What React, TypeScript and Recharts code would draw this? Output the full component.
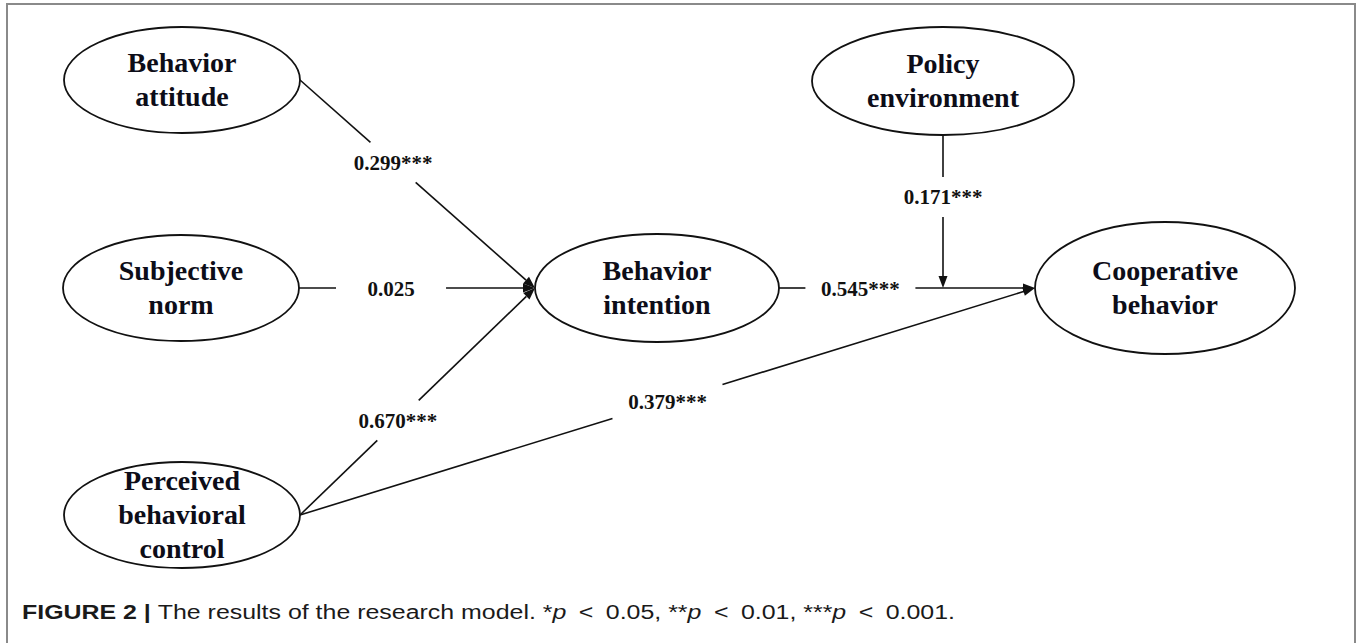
import React from 'react';
import { ScatterChart, Scatter, XAxis, YAxis, ReferenceLine } from 'recharts';

const W = 1357;
const H = 643;

// constructs of the research model
const nodeIds = ['BA', 'SN', 'PBC', 'BI', 'PE', 'CB'];
const nodeText = [
  ['Behavior', 'attitude'],
  ['Subjective', 'norm'],
  ['Perceived', 'behavioral', 'control'],
  ['Behavior', 'intention'],
  ['Policy', 'environment'],
  ['Cooperative', 'behavior'],
];

// structural paths and their coefficients
const pathFrom = ['BA', 'SN', 'PBC', 'BI', 'PBC'];
const pathTo = ['BI', 'BI', 'BI', 'CB', 'CB'];
const pathCoef = ['0.299***', '0.025', '0.670***', '0.545***', '0.379***'];

// moderating effect of policy environment on the BI -> CB path
const modFrom = 'PE';
const modOnPath = 3;
const modCoef = '0.171***';

// diagram layout (centre + radii of each ellipse, in plot units)
const layout: Record<string, { x: number; y: number; rx: number; ry: number }> = {
  BA: { x: 182, y: 80, rx: 118, ry: 53 },
  SN: { x: 181, y: 288, rx: 118, ry: 53 },
  PBC: { x: 182, y: 515, rx: 118, ry: 53 },
  BI: { x: 657, y: 288, rx: 122, ry: 54 },
  PE: { x: 943, y: 81, rx: 131, ry: 54 },
  CB: { x: 1165, y: 288, rx: 130, ry: 66 },
};
const labelAt = [0.396, 0.39, 0.417, 0.318, 0.5];
const modLabelAt = 0.405;
const GAP_W = 55;
const GAP_H = 20;

type Pt = { x: number; y: number };

const split = (p: Pt, q: Pt, t: number) => {
  const dx = q.x - p.x;
  const dy = q.y - p.y;
  const len = Math.hypot(dx, dy);
  const ux = dx / len;
  const uy = dy / len;
  const c = { x: p.x + dx * t, y: p.y + dy * t };
  const s = Math.min(ux ? GAP_W / Math.abs(ux) : Infinity, uy ? GAP_H / Math.abs(uy) : Infinity);
  return {
    c,
    a: [p, { x: c.x - ux * s, y: c.y - uy * s }],
    b: [{ x: c.x + ux * s, y: c.y + uy * s }, q],
  };
};

const pathEnds = pathFrom.map((f, i) => {
  const a = layout[f];
  const b = layout[pathTo[i]];
  return [{ x: a.x + a.rx, y: a.y }, { x: b.x - b.rx, y: b.y }];
});

const segs = pathEnds.map((e, i) => split(e[0], e[1], labelAt[i]));

const modStart = { x: layout[modFrom].x, y: layout[modFrom].y + layout[modFrom].ry };
const host = pathEnds[modOnPath];
const modEnd = {
  x: modStart.x,
  y: host[0].y + ((modStart.x - host[0].x) / (host[1].x - host[0].x)) * (host[1].y - host[0].y),
};
const modSeg = split(modStart, modEnd, modLabelAt);

const nodeData = nodeIds.map((id, i) => ({ x: layout[id].x, y: layout[id].y, id, lines: nodeText[i] }));
const labelData = [
  ...segs.map((s, i) => ({ x: s.c.x, y: s.c.y, text: pathCoef[i] })),
  { x: modSeg.c.x, y: modSeg.c.y, text: modCoef },
];

const serif = "'Liberation Serif', 'Times New Roman', serif";

const EllipseNode = (props: any) => {
  const { cx, cy, payload } = props;
  const l = layout[payload.id];
  const n = payload.lines.length;
  return (
    <g>
      <ellipse cx={cx} cy={cy} rx={l.rx} ry={l.ry} fill="#fff" stroke="#111" strokeWidth={1.8} />
      {payload.lines.map((t: string, i: number) => (
        <text
          key={t}
          x={cx}
          y={cy + 9 + (i - (n - 1) / 2) * 34}
          textAnchor="middle"
          fontFamily={serif}
          fontWeight="bold"
          fontSize={28}
          fill="#0d0d18"
        >
          {t}
        </text>
      ))}
    </g>
  );
};

const CoefLabel = (props: any) => {
  const { cx, cy, payload } = props;
  return (
    <text x={cx} y={cy + 7.5} textAnchor="middle" fontFamily={serif} fontWeight="bold" fontSize={21} fill="#111">
      {payload.text}
    </text>
  );
};

const PlainLine = (props: any) => (
  <line x1={props.x1} y1={props.y1} x2={props.x2} y2={props.y2} stroke="#111" strokeWidth={1.6} />
);

const ArrowLine = (props: any) => {
  const { x1, y1, x2, y2 } = props;
  const len = Math.hypot(x2 - x1, y2 - y1);
  const ux = (x2 - x1) / len;
  const uy = (y2 - y1) / len;
  const hl = 12;
  const hw = 4.5;
  const bx = x2 - ux * hl;
  const by = y2 - uy * hl;
  const pts = `${x2},${y2} ${bx - uy * hw},${by + ux * hw} ${bx + uy * hw},${by - ux * hw}`;
  return (
    <g>
      <line x1={x1} y1={y1} x2={bx} y2={by} stroke="#111" strokeWidth={1.6} />
      <polygon points={pts} fill="#111" />
    </g>
  );
};

export default function App() {
  return (
    <div style={{ position: 'absolute', left: 0, top: 0, width: W, height: H, overflow: 'hidden', background: '#fff' }}>
      <div
        style={{
          position: 'absolute',
          left: 6,
          top: 3,
          width: 1350,
          height: 700,
          border: '2px solid #8a8a8a',
          boxSizing: 'border-box',
        }}
      />
      <div style={{ position: 'absolute', left: 0, top: 0 }}>
        <ScatterChart width={W} height={H} margin={{ top: 0, right: 0, bottom: 0, left: 0 }}>
          <XAxis type="number" dataKey="x" domain={[0, W]} hide />
          <YAxis type="number" dataKey="y" domain={[0, H]} reversed hide />
          {segs.map((s, i) => (
            <ReferenceLine key={`a${i}`} segment={s.a} shape={PlainLine} ifOverflow="visible" />
          ))}
          {segs.map((s, i) => (
            <ReferenceLine key={`b${i}`} segment={s.b} shape={ArrowLine} ifOverflow="visible" />
          ))}
          <ReferenceLine segment={modSeg.a} shape={PlainLine} ifOverflow="visible" />
          <ReferenceLine segment={modSeg.b} shape={ArrowLine} ifOverflow="visible" />
          <Scatter data={nodeData} shape={EllipseNode} isAnimationActive={false} />
          <Scatter data={labelData} shape={CoefLabel} isAnimationActive={false} />
        </ScatterChart>
      </div>
      <svg style={{ position: 'absolute', left: 0, top: 590 }} width={W} height={45}>
        <text
          x={22}
          y={29}
          fontFamily="'Liberation Sans', Arial, sans-serif"
          fontSize={20}
          fill="#1a1a1a"
          textLength={933}
          lengthAdjust="spacingAndGlyphs"
        >
          <tspan fontWeight="bold">FIGURE 2 | </tspan>
          <tspan>The results of the research model. *</tspan>
          <tspan fontStyle="italic">p</tspan>
          <tspan>{'\u2002<\u20020.05, **'}</tspan>
          <tspan fontStyle="italic">p</tspan>
          <tspan>{'\u2002<\u20020.01, ***'}</tspan>
          <tspan fontStyle="italic">p</tspan>
          <tspan>{'\u2002<\u20020.001.'}</tspan>
        </text>
      </svg>
    </div>
  );
}
